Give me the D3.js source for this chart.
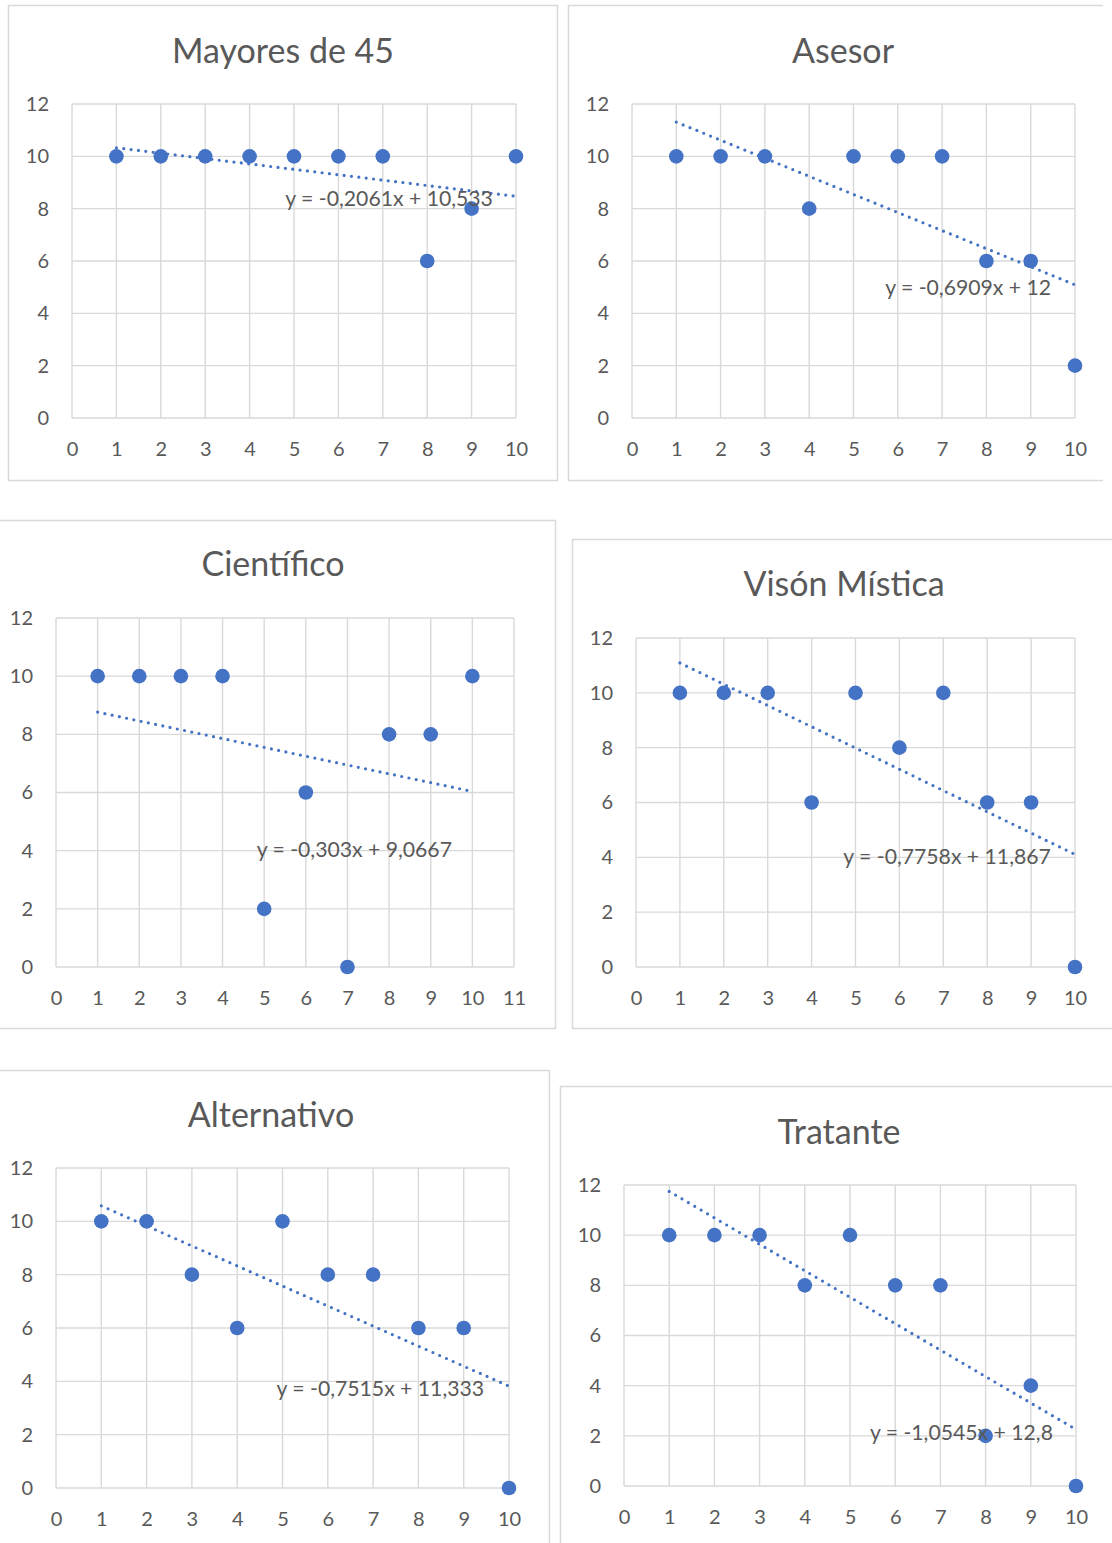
<!DOCTYPE html>
<html>
<head>
<meta charset="utf-8">
<script src="https://cdn.jsdelivr.net/npm/d3@7"></script>
<style>
  html, body { margin: 0; padding: 0; background: #ffffff; }
  svg { display: block; }
  text { font-family: Lato, "Liberation Sans", sans-serif; fill: #595959; }
</style>
</head>
<body>
<svg id="chart" width="1112" height="1543"></svg>
<script>
// ---------- DATA ----------
const titles = ["Mayores de 45", "Asesor", "Científico", "Visón Mística", "Alternativo", "Tratante"];
const xValues = [1, 2, 3, 4, 5, 6, 7, 8, 9, 10];
const mayores45 = [10, 10, 10, 10, 10, 10, 10, 6, 8, 10];
const asesor = [10, 10, 10, 8, 10, 10, 10, 6, 6, 2];
const cientifico = [10, 10, 10, 10, 2, 6, 0, 8, 8, 10];
const visionMistica = [10, 10, 10, 6, 10, 8, 10, 6, 6, 0];
const alternativo = [10, 10, 8, 6, 10, 8, 8, 6, 6, 0];
const tratante = [10, 10, 10, 8, 10, 8, 8, 2, 4, 0];
const seriesList = [mayores45, asesor, cientifico, visionMistica, alternativo, tratante];
const equations = [
  "y = -0,2061x + 10,533",
  "y = -0,6909x + 12",
  "y = -0,303x + 9,0667",
  "y = -0,7758x + 11,867",
  "y = -0,7515x + 11,333",
  "y = -1,0545x + 12,8"
];
const xMaxList = [10, 10, 11, 10, 10, 10];
const yTicks = [0, 2, 4, 6, 8, 10, 12];

// ---------- LAYOUT (pixels) ----------
// frame: [x0, y0, x1, y1], sides drawn: t r b l ; plot: [left, top, right, bottom]
const layout = [
  { frame: [8, 5, 558, 481], sides: "trbl", plot: [72, 104, 516, 418], titleX: 283, titleY: 49, eq: [9.48, 8.41] },
  { frame: [568, 5, 1103, 481], sides: "tbl", plot: [632, 104, 1075, 418], titleX: 843, titleY: 49, eq: [9.46, 5.0] },
  { frame: [-2, 520, 556, 1029], sides: "trb", plot: [56, 618, 514, 967], titleX: 273, titleY: 562, eq: [9.51, 4.06] },
  { frame: [572, 539, 1114, 1029], sides: "tbl", plot: [636, 638, 1075, 967], titleX: 844, titleY: 582, eq: [9.45, 4.05] },
  { frame: [-2, 1070, 550, 1560], sides: "tr", plot: [56, 1168, 509, 1488], titleX: 271, titleY: 1113, eq: [9.45, 3.75] },
  { frame: [560, 1086, 1114, 1560], sides: "tl", plot: [624, 1185, 1076, 1486], titleX: 839, titleY: 1130, eq: [9.49, 2.15] }
];

const BLUE = "#4472C4";
const GRID = "#d9d9d9";
const svg = d3.select("#chart");

layout.forEach((L, i) => {
  const g = svg.append("g");
  const [fx0, fy0, fx1, fy1] = L.frame;
  // frame
  const fp = d3.path();
  if (L.sides.includes("t")) { fp.moveTo(fx0, fy0 + 0.5); fp.lineTo(fx1, fy0 + 0.5); }
  if (L.sides.includes("r")) { fp.moveTo(fx1 - 0.5, fy0); fp.lineTo(fx1 - 0.5, fy1); }
  if (L.sides.includes("b")) { fp.moveTo(fx0, fy1 - 0.5); fp.lineTo(fx1, fy1 - 0.5); }
  if (L.sides.includes("l")) { fp.moveTo(fx0 + 0.5, fy0); fp.lineTo(fx0 + 0.5, fy1); }
  g.append("path").attr("d", fp.toString()).attr("fill", "none").attr("stroke", GRID).attr("stroke-width", 1.5);

  const [pl, pt, pr, pb] = L.plot;
  const xMax = xMaxList[i];
  const x = d3.scaleLinear().domain([0, xMax]).range([pl, pr]);
  const y = d3.scaleLinear().domain([0, 12]).range([pb, pt]);
  const xTicks = d3.range(0, xMax + 1);

  // grid
  g.append("g").selectAll("line.v").data(xTicks).join("line")
    .attr("x1", d => x(d)).attr("x2", d => x(d)).attr("y1", pt).attr("y2", pb)
    .attr("stroke", GRID).attr("stroke-width", 1.4);
  g.append("g").selectAll("line.h").data(yTicks).join("line")
    .attr("x1", pl).attr("x2", pr).attr("y1", d => y(d)).attr("y2", d => y(d))
    .attr("stroke", GRID).attr("stroke-width", 1.4);

  // axes labels
  const ax = g.append("g").attr("transform", `translate(0,${pb})`)
    .call(d3.axisBottom(x).tickValues(xTicks).tickSize(0).tickPadding(24).tickFormat(d3.format("d")));
  ax.select(".domain").remove();
  ax.selectAll("text").attr("font-size", 20).attr("fill", "#595959").attr("font-family", "Lato, sans-serif");
  const ay = g.append("g").attr("transform", `translate(${pl},0)`)
    .call(d3.axisLeft(y).tickValues(yTicks).tickSize(0).tickPadding(23).tickFormat(d3.format("d")));
  ay.select(".domain").remove();
  ay.selectAll("text").attr("font-size", 20).attr("fill", "#595959").attr("font-family", "Lato, sans-serif");

  // title
  g.append("text").attr("x", L.titleX).attr("y", L.titleY).attr("text-anchor", "middle")
    .attr("dominant-baseline", "central").attr("font-size", 34).text(titles[i]);

  // data
  const ys = seriesList[i];
  const pts = xValues.map((xv, k) => ({ x: xv, y: ys[k] }));

  // linear trendline (least squares) from data
  const mx = d3.mean(pts, d => d.x), my = d3.mean(pts, d => d.y);
  const sxy = d3.sum(pts, d => (d.x - mx) * (d.y - my));
  const sxx = d3.sum(pts, d => (d.x - mx) ** 2);
  const slope = sxy / sxx, icpt = my - slope * mx;
  const x0 = d3.min(pts, d => d.x), x1 = d3.max(pts, d => d.x);
  const line = d3.line().x(d => x(d[0])).y(d => y(d[1]));

  // points
  g.append("g").selectAll("circle").data(pts).join("circle")
    .attr("cx", d => x(d.x)).attr("cy", d => y(d.y)).attr("r", 7.3).attr("fill", BLUE);

  g.append("path").datum([[x0, slope * x0 + icpt], [x1, slope * x1 + icpt]])
    .attr("d", line).attr("fill", "none").attr("stroke", BLUE)
    .attr("stroke-width", 3.2).attr("stroke-linecap", "round").attr("stroke-dasharray", "0 7.4");

  // equation label
  g.append("text").attr("x", x(L.eq[0])).attr("y", y(L.eq[1]))
    .attr("text-anchor", "end").attr("dominant-baseline", "central")
    .attr("font-size", 21.2).text(equations[i]);
});
</script>
</body>
</html>
